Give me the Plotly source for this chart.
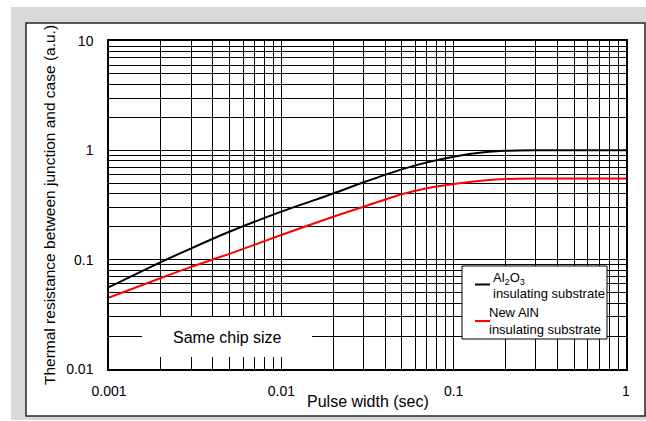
import plotly.graph_objects as go

# Pulse width (s) and transient thermal resistance (a.u.) for both substrates
pulse_width = [0.001, 0.002, 0.003, 0.005, 0.01, 0.02, 0.03, 0.05, 0.07, 0.1, 0.15, 0.2, 0.3, 0.5, 1.0]
al2o3_rth = [0.056, 0.095, 0.127, 0.180, 0.275, 0.403, 0.510, 0.670, 0.776, 0.875, 0.960, 0.990, 1.0, 1.0, 1.0]
aln_rth = [0.045, 0.068, 0.086, 0.113, 0.168, 0.247, 0.305, 0.396, 0.450, 0.492, 0.530, 0.547, 0.552, 0.552, 0.552]

x_tick_vals = [0.001, 0.01, 0.1, 1]
x_tick_text = ["0.001", "0.01", "0.1", "1"]
y_tick_vals = [0.01, 0.1, 1, 10]
y_tick_text = ["0.01", "0.1", "1", "10"]

legend_al2o3 = ["Al<sub>2</sub>O<sub>3</sub>", "insulating substrate"]
legend_aln = ["New AlN", "insulating substrate"]
note_text = "Same chip size"
x_title = "Pulse width (sec)"
y_title = "Thermal resistance between junction and case (a.u.)"

W, H = 646, 421
ML, MR, MT, MB = 109, 20, 41, 52
PW, PH = W - ML - MR, H - MT - MB
FONT = "Liberation Sans, Arial, sans-serif"


def px(x):
    return (x - ML) / PW


def py(y):
    return (H - MB - y) / PH


fig = go.Figure()
fig.add_trace(go.Scatter(x=pulse_width, y=al2o3_rth, mode="lines",
                         line=dict(color="#000000", width=2, shape="spline", smoothing=0.8),
                         showlegend=False))
fig.add_trace(go.Scatter(x=pulse_width, y=aln_rth, mode="lines",
                         line=dict(color="#ff0000", width=2, shape="spline", smoothing=0.8),
                         showlegend=False))

grid_minor = dict(dtick="D1", showgrid=True, gridcolor="#000000", gridwidth=1, ticks="")
axis_common = dict(type="log", showline=True, mirror=True, linecolor="#000000", linewidth=1.5,
                   showgrid=True, gridcolor="#000000", gridwidth=1, zeroline=False, ticks="",
                   tickfont=dict(family=FONT, size=14, color="#000000"), automargin=False,
                   minor=grid_minor)

fig.update_xaxes(range=[-3, 0], tickvals=x_tick_vals, ticktext=x_tick_text, ticklabelstandoff=8,
                 **axis_common)
fig.update_yaxes(range=[-2, 1], tickvals=y_tick_vals, ticktext=y_tick_text, ticklabelstandoff=11,
                 title=dict(text=y_title, font=dict(family=FONT, size=15.5, color="#000000"), standoff=7),
                 **axis_common)

shapes = [
    # outer grey panel and white card
    dict(type="rect", xref="paper", yref="paper", x0=px(11), x1=px(646), y0=py(420), y1=py(7),
         fillcolor="#d9d9d9", line=dict(width=0), layer="below"),
    dict(type="rect", xref="paper", yref="paper", x0=px(26), x1=px(645), y0=py(416), y1=py(23),
         fillcolor="#ffffff", line=dict(color="#262626", width=1.5), layer="below"),
    # label box masking the grid
    dict(type="rect", xref="paper", yref="paper", x0=px(142), x1=px(312), y0=py(357), y1=py(317),
         fillcolor="#ffffff", line=dict(width=0), layer="above"),
    # legend box and line samples
    dict(type="rect", xref="paper", yref="paper", x0=px(462), x1=px(607), y0=py(339), y1=py(266),
         fillcolor="#ffffff", line=dict(color="#000000", width=1), layer="above"),
    dict(type="line", xref="paper", yref="paper", x0=px(475), x1=px(490), y0=py(284.5), y1=py(284.5),
         line=dict(color="#000000", width=2), layer="above"),
    dict(type="line", xref="paper", yref="paper", x0=px(475), x1=px(490), y0=py(321), y1=py(321),
         line=dict(color="#ff0000", width=2), layer="above"),
]

annotations = [
    dict(text=note_text, xref="paper", yref="paper", x=px(227), y=py(337), xanchor="center", yanchor="middle",
         showarrow=False, font=dict(family=FONT, size=16, color="#000000")),
    # x-axis title placed just under the tick labels
    dict(text=x_title, xref="paper", yref="paper", x=0.5, y=py(401), xanchor="center", yanchor="middle",
         showarrow=False, font=dict(family=FONT, size=16, color="#000000")),
]
legend_lines = [
    (legend_al2o3[0], 491, 278),
    (legend_al2o3[1], 491, 293.5),
    (legend_aln[0], 487, 312.5),
    (legend_aln[1], 487, 329),
]
for txt, lx, ly in legend_lines:
    annotations.append(dict(text=txt, xref="paper", yref="paper", x=px(lx), y=py(ly), xanchor="left",
                            yanchor="middle", showarrow=False, font=dict(family=FONT, size=13, color="#000000")))

fig.update_layout(width=W, height=H, margin=dict(l=ML, r=MR, t=MT, b=MB, pad=0, autoexpand=False),
                  paper_bgcolor="#ffffff", plot_bgcolor="rgba(0,0,0,0)", shapes=shapes,
                  annotations=annotations, showlegend=False, font=dict(family=FONT))

fig.write_html("out.html")
